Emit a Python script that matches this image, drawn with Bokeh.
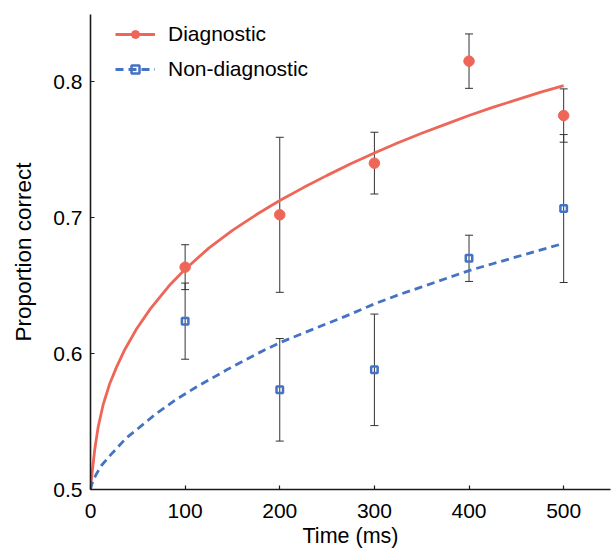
from bokeh.plotting import figure
from bokeh.models import (ColumnDataSource, Whisker, TeeHead, FixedTicker,
                          Legend, LegendItem, Range1d)
from bokeh.embed import file_html
from bokeh.resources import INLINE

# ---- data ----
times = [100, 200, 300, 400, 500]
diag_mean = [0.6635, 0.702, 0.740, 0.815, 0.775]
diag_err = [0.0165, 0.057, 0.0227, 0.020, 0.0196]
nondiag_mean = [0.6238, 0.5733, 0.588, 0.670, 0.7066]
nondiag_err = [0.028, 0.0377, 0.041, 0.017, 0.0544]

# fitted curves
diag_fit_t = [0, 0.3, 1.2, 2.8, 4.6, 8.1, 13.4, 20.4, 27.5, 36.3, 48.6, 63.4, 84.5,
              100, 125, 150, 175, 200, 225, 250, 275, 300, 325, 350, 375, 400, 425,
              450, 475, 500]
diag_fit_v = [0.5, 0.503, 0.509, 0.519, 0.530, 0.546, 0.5625, 0.578, 0.590, 0.603,
              0.618, 0.633, 0.651, 0.662, 0.6775, 0.6905, 0.702, 0.7125, 0.722, 0.731,
              0.7395, 0.7475, 0.755, 0.762, 0.7685, 0.775, 0.781, 0.7865, 0.792, 0.797]
nondiag_fit_t = [0, 1, 3, 6.3, 12, 22, 30, 38, 47, 54, 68, 90, 111, 144, 175, 200,
                 225, 250, 275, 300, 325, 350, 375, 400, 425, 450, 475, 500]
nondiag_fit_v = [0.5, 0.503, 0.507, 0.5115, 0.518, 0.526, 0.532, 0.538, 0.543, 0.547,
                 0.555, 0.566, 0.575, 0.588, 0.5995, 0.608, 0.615, 0.622, 0.629,
                 0.6365, 0.643, 0.649, 0.655, 0.661, 0.666, 0.671, 0.676, 0.681]

x_ticks = [0, 100, 200, 300, 400, 500]
y_ticks = [0.5, 0.6, 0.7, 0.8]

RED = "#EE6658"
BLUE = "#4472C4"
FONT = "Liberation Sans"

p = figure(width=611, height=551, output_backend="svg", toolbar_location=None,
           x_range=Range1d(0, 549.5), y_range=Range1d(0.5, 0.8493),
           min_border_left=90, min_border_right=1, min_border_top=14,
           min_border_bottom=62)
p.outline_line_color = None
p.xgrid.visible = False
p.ygrid.visible = False
p.background_fill_color = "white"
p.border_fill_color = "white"

for ax in (p.xaxis[0], p.yaxis[0]):
    ax.major_tick_in = 4
    ax.major_tick_out = 0
    ax.minor_tick_line_color = None
    ax.axis_line_width = 1.6
    ax.axis_line_color = "#1a1a1a"
    ax.major_tick_line_color = "#1a1a1a"
    ax.major_tick_line_width = 1.2
    ax.major_label_text_font = FONT
    ax.major_label_text_font_size = "21px"
    ax.major_label_text_color = "black"
    ax.axis_label_text_font = FONT
    ax.axis_label_text_font_style = "normal"
    ax.axis_label_text_color = "black"

p.xaxis.axis_label_text_font_size = "21.5px"
p.yaxis.axis_label_text_font_size = "22.5px"
p.xaxis.ticker = FixedTicker(ticks=x_ticks)
p.yaxis.ticker = FixedTicker(ticks=y_ticks)
p.xaxis.axis_label = "Time (ms)"
p.yaxis.axis_label = "Proportion correct"
p.xaxis.major_label_standoff = 14
p.yaxis.major_label_standoff = 8
p.xaxis.axis_label_standoff = 3
p.yaxis.axis_label_standoff = 14

# error bars
def add_whiskers(means, errs):
    src = ColumnDataSource(dict(
        x=times,
        upper=[m + e for m, e in zip(means, errs)],
        lower=[m - e for m, e in zip(means, errs)]))
    w = Whisker(source=src, base="x", upper="upper", lower="lower",
                line_color="#333333", line_width=1,
                upper_head=TeeHead(size=8, line_color="#333333", line_width=1),
                lower_head=TeeHead(size=8, line_color="#333333", line_width=1))
    w.level = "underlay"
    p.add_layout(w)

add_whiskers(diag_mean, diag_err)
add_whiskers(nondiag_mean, nondiag_err)

# fitted curves
r_line = p.line(diag_fit_t, diag_fit_v, line_color=RED, line_width=2.8,
                line_join="round")
b_line = p.line(nondiag_fit_t, nondiag_fit_v, line_color=BLUE, line_width=2.8,
                line_dash="8 5")

# points
r_pts = p.scatter(times, diag_mean, marker="circle", size=10.5,
                  fill_color=RED, line_color=RED)
b_pts = p.scatter(times, nondiag_mean, marker="square", size=6.5,
                  fill_alpha=0, line_color=BLUE, line_width=2.5)

legend = Legend(items=[
    LegendItem(label="Diagnostic", renderers=[r_line, r_pts]),
    LegendItem(label="Non-diagnostic", renderers=[b_line, b_pts]),
], location=(25, 408))
legend.border_line_color = None
legend.background_fill_alpha = 0
legend.padding = 0
legend.margin = 0
legend.spacing = 11
legend.glyph_width = 40
legend.glyph_height = 20
legend.label_height = 20
legend.label_standoff = 13
legend.label_text_font = FONT
legend.label_text_font_size = "21px"
legend.label_text_color = "black"
p.add_layout(legend)

open("out.html", "w").write(file_html(p, INLINE))
